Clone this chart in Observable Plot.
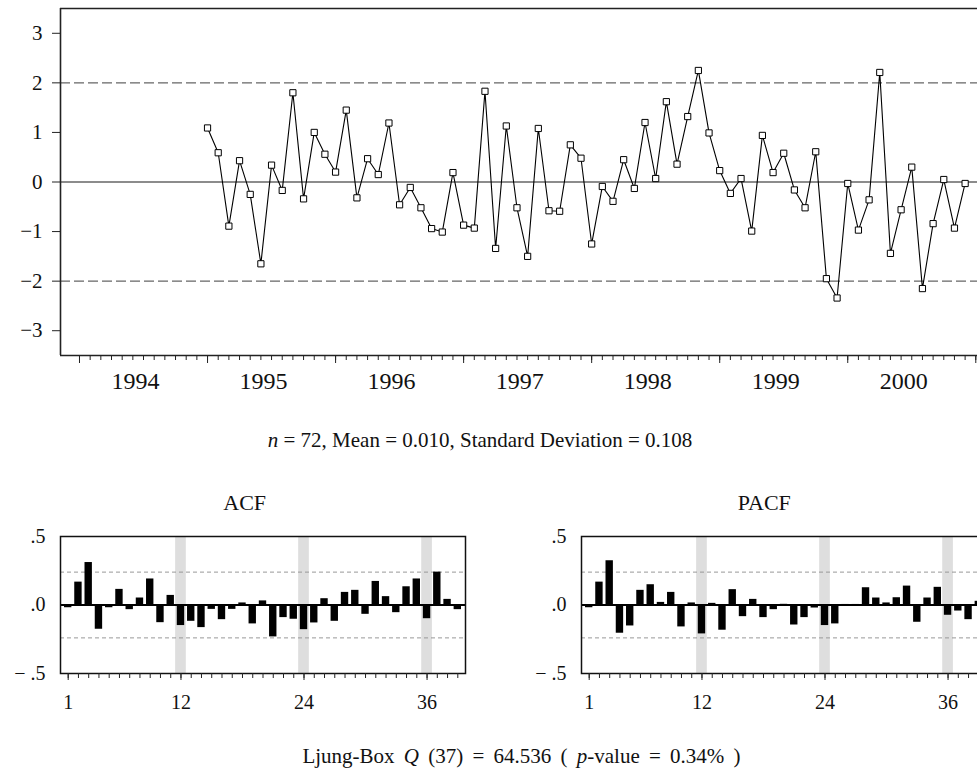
<!DOCTYPE html>
<html><head><meta charset="utf-8">
<script src="https://cdn.jsdelivr.net/npm/d3@7"></script>
<script src="https://cdn.jsdelivr.net/npm/@observablehq/plot@0.6"></script>
<style>
html,body{margin:0;padding:0;background:#fff;overflow:hidden}
#wrap{position:relative;width:977px;height:776px;overflow:hidden;font-family:"Liberation Serif","Times New Roman",serif;color:#111;background:#fff}
.pl{position:absolute}
.cap{position:absolute;white-space:nowrap;font-size:21px;line-height:24px;transform:translateX(-50%)}
</style></head><body><div id="wrap"></div>
<script>
const years = ["1994", "1995", "1996", "1997", "1998", "1999", "2000"];
const residuals = [1.09, 0.59, -0.89, 0.43, -0.25, -1.65, 0.34, -0.17, 1.80, -0.34, 1.00, 0.56,
  0.20, 1.45, -0.32, 0.47, 0.15, 1.19, -0.46, -0.11, -0.52, -0.94, -1.01, 0.19,
  -0.87, -0.93, 1.83, -1.34, 1.13, -0.52, -1.50, 1.08, -0.58, -0.59, 0.75, 0.48,
  -1.25, -0.09, -0.39, 0.45, -0.13, 1.20, 0.07, 1.62, 0.36, 1.32, 2.25, 0.99,
  0.23, -0.23, 0.07, -0.99, 0.94, 0.19, 0.58, -0.16, -0.52, 0.61, -1.95, -2.34,
  -0.03, -0.97, -0.36, 2.21, -1.44, -0.56, 0.30, -2.15, -0.84, 0.05, -0.93, -0.03];
const acf = [-0.02, 0.167, 0.31, -0.177, -0.02, 0.114, -0.034, 0.051, 0.19, -0.129, 0.07, -0.15,
  -0.119, -0.165, -0.032, -0.107, -0.032, 0.015, -0.138, 0.03, -0.233, -0.092, -0.104, -0.18,
  -0.131, 0.046, -0.119, 0.092, 0.107, -0.068, 0.172, 0.061, -0.056, 0.133, 0.19, -0.10,
  0.24, 0.041, -0.034];
const pacf = [-0.02, 0.167, 0.323, -0.206, -0.153, 0.107, 0.148, 0.019, 0.092, -0.16, 0.015, -0.211,
  0.012, -0.184, 0.112, -0.085, 0.041, -0.092, -0.034, 0.005, -0.146, -0.092, -0.022, -0.15,
  -0.138, 0.004, 0.004, 0.126, 0.051, 0.015, 0.053, 0.138, -0.126, 0.051, 0.129, -0.075,
  -0.044, -0.107, 0.027];
const seasonalLags = [12, 24, 36];
const lagTicks = [1, 12, 24, 36];
const yTicks = [-3, -2, -1, 0, 1, 2, 3];
const sigmaLimits = [-2, 2];
const bandLimits = [-0.24, 0.24];
const firstMonth = 12; // Jan 1995, months counted from Jan 1994

const FONT = '"Liberation Serif","Times New Roman",serif';
const wrap = document.getElementById("wrap");
const fmtMinus = d => d < 0 ? "\u2212" + (-d) : String(d);

const series = residuals.map((v, i) => ({t: firstMonth + i, v}));
const monthTicks = d3.range(0, years.length * 12 + 1);
const yearStarts = years.map((y, i) => i * 12).concat([years.length * 12]);
const yearMids = years.map((y, i) => i * 12 + 6);
const xMin = -1.78, xMax = 84.16;

const mainPlot = Plot.plot({
  width: 977, height: 400,
  marginLeft: 60, marginRight: 0, marginTop: 8, marginBottom: 45,
  style: {fontFamily: FONT, background: "transparent", color: "#111"},
  x: {domain: [xMin, xMax], axis: null, label: null},
  y: {domain: [-3.5, 3.5], axis: null, label: null},
  marks: [
    Plot.ruleY(sigmaLimits, {stroke: "#666", strokeWidth: 1.3, strokeDasharray: "10,4"}),
    Plot.ruleY([0], {stroke: "#666", strokeWidth: 1.3}),
    Plot.line(series, {x: "t", y: "v", stroke: "#000", strokeWidth: 1.1}),
    Plot.dot(series, {x: "t", y: "v", symbol: "square", r: 3.5, fill: "#fff", stroke: "#000", strokeWidth: 1}),
    Plot.ruleY([3.5], {stroke: "#222", strokeWidth: 1.6}),
    Plot.ruleY([-3.5], {stroke: "#222", strokeWidth: 1.6}),
    Plot.ruleX([xMin], {stroke: "#222", strokeWidth: 1.6}),
    Plot.axisY({ticks: yTicks, tickSize: 8, tickPadding: 10, tickFormat: fmtMinus, fontSize: 21, stroke: "#222", fill: "#111", label: null}),
    Plot.axisX({ticks: monthTicks, tickSize: 5, tickFormat: () => "", stroke: "#222", label: null}),
    Plot.axisX({ticks: yearStarts, tickSize: 8, tickFormat: () => "", stroke: "#222", label: null}),
    Plot.axisX({ticks: yearMids, tickSize: 0, tickPadding: 16, tickFormat: d => years[(d - 6) / 12], fontSize: 24, dx: -8, fill: "#111", label: null})
  ]
});
mainPlot.classList.add("pl");
mainPlot.style.left = "0px"; mainPlot.style.top = "0px";
wrap.appendChild(mainPlot);

function corrPanel(values) {
  const rows = values.map((v, i) => ({lag: i + 1, v}));
  return Plot.plot({
    width: 490, height: 240,
    marginLeft: 60, marginRight: 25, marginTop: 56, marginBottom: 47,
    style: {fontFamily: FONT, background: "transparent", color: "#111"},
    x: {domain: [0.25, 39.75], axis: null, label: null},
    y: {domain: [-0.5, 0.5], axis: null, label: null},
    marks: [
      Plot.rect(seasonalLags, {x1: d => d - 0.52, x2: d => d + 0.52, y1: -0.5, y2: 0.5, fill: "#dedede"}),
      Plot.ruleY(bandLimits, {stroke: "#999", strokeWidth: 1, strokeDasharray: "4,3"}),
      Plot.rect(rows, {x1: d => d.lag - 0.36, x2: d => d.lag + 0.36, y1: 0, y2: "v", fill: "#000"}),
      Plot.ruleY([0], {stroke: "#000", strokeWidth: 2}),
      Plot.frame({stroke: "#111", strokeWidth: 1.5}),
      Plot.axisY({ticks: [-0.5, 0, 0.5], tickSize: 0, tickPadding: 15, fontSize: 20, fill: "#111", label: null,
        tickFormat: d => d === 0 ? ".0" : d > 0 ? ".5" : "\u2212 .5"}),
      Plot.axisX({ticks: d3.range(1, values.length + 1), tickSize: 5, tickFormat: () => "", stroke: "#222", label: null}),
      Plot.axisX({ticks: lagTicks, tickSize: 7, tickPadding: 14, fontSize: 20, fill: "#111", stroke: "#222", label: null})
    ]
  });
}

const acfPlot = corrPanel(acf);
acfPlot.classList.add("pl");
acfPlot.style.left = "0px"; acfPlot.style.top = "480px";
wrap.appendChild(acfPlot);

const pacfPlot = corrPanel(pacf);
pacfPlot.classList.add("pl");
pacfPlot.style.left = "520.7px"; pacfPlot.style.top = "480px";
wrap.appendChild(pacfPlot);

function addText(html, x, y, size, wordSpacing) {
  const d = document.createElement("div");
  d.className = "cap";
  d.innerHTML = html;
  d.style.left = x + "px";
  d.style.top = (y - 12) + "px";
  if (size) d.style.fontSize = size + "px";
  if (wordSpacing) d.style.wordSpacing = wordSpacing + "px";
  wrap.appendChild(d);
}
addText("<i>n</i> = 72, Mean = 0.010, Standard Deviation = 0.108", 480, 440);
addText("ACF", 244.7, 503, 22);
addText("PACF", 764.3, 503, 22);
addText("Ljung-Box <i>Q</i> (37) = 64.536 ( <i>p</i>-value = 0.34% )", 521.5, 756, 21, 4);
</script></body></html>
